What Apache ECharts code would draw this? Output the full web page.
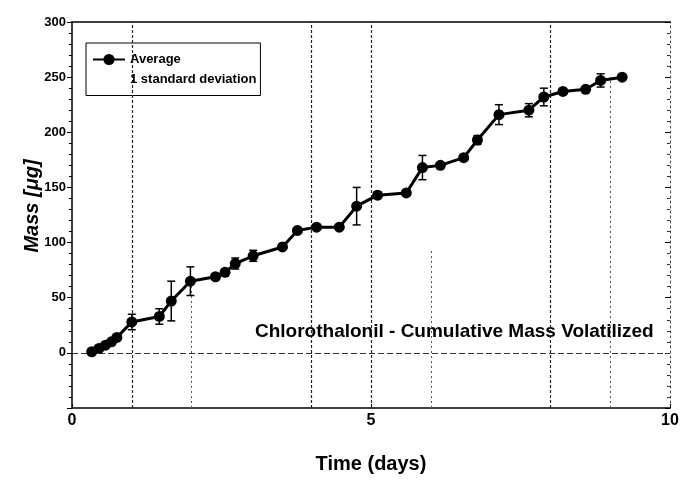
<!DOCTYPE html>
<html>
<head>
<meta charset="utf-8">
<style>
html,body{margin:0;padding:0;background:#fff;}
#chart{width:682px;height:483px;}
</style>
<script src="https://cdn.jsdelivr.net/npm/echarts@6/dist/echarts.min.js"></script>
</head>
<body>
<div id="chart"></div>
<script>
// Data
const days = [0.33, 0.45, 0.56, 0.66, 0.75, 1.0, 1.46, 1.66, 1.98, 2.40, 2.56, 2.73, 3.03, 3.52, 3.77, 4.09, 4.47, 4.76, 5.11, 5.59, 5.86, 6.16, 6.55, 6.78, 7.14, 7.64, 7.89, 8.21, 8.59, 8.84, 9.2];
const mass = [1, 4, 7, 10, 14, 28, 33, 47, 65, 69, 73, 81, 88, 96, 111, 114, 114, 133, 143, 145, 168, 170, 177, 193, 216, 220, 232, 237, 239, 247, 250];
const sd   = [1, 1, 1, 1, 2, 7, 7, 18, 13, 2, 3, 5, 5, 2, 2, 2, 2, 17, 3, 2, 11, 2, 2, 4, 9, 6, 8, 2, 2, 6, 2];
const yTicks = [0, 50, 100, 150, 200, 250, 300];
const xTicks = [0, 5, 10];
const fullGridDays = [1, 4, 5, 8];
const partialGrid = [[2, -50, 65], [6, -50, 95], [9, -50, 250]];

const FONT = "'Liberation Sans', Arial, sans-serif";
const chart = echarts.init(document.getElementById('chart'));

const avgData = days.map((d, i) => [d, mass[i]]);
const errData = days.map((d, i) => [d, mass[i] - sd[i], mass[i] + sd[i]]);

const gridMarks = fullGridDays.map(v => ({ xAxis: v }));
gridMarks.push({ yAxis: 0, lineStyle: { type: [6, 3], color: '#333', width: 1 } });
partialGrid.forEach(g => {
  gridMarks.push([{ coord: [g[0], g[1]] }, { coord: [g[0], g[2]], lineStyle: { type: [2, 3], color: '#555', width: 1 } }]);
});

chart.setOption({
  animation: false,
  backgroundColor: '#fff',
  grid: { left: 72, right: 12, top: 22, bottom: 75 },
  legend: {
    left: 86, top: 43, orient: 'vertical',
    borderColor: '#000', borderWidth: 1,
    padding: [10, 4, 10, 6],
    itemGap: 6, itemWidth: 32, itemHeight: 14,
    textStyle: { fontFamily: FONT, fontWeight: 'bold', fontSize: 13, color: '#000' },
    data: [{ name: 'Average' }, { name: '1 standard deviation', icon: 'none' }]
  },
  xAxis: [{
    type: 'value', min: 0, max: 10, interval: 5,
    name: 'Time (days)', nameLocation: 'middle', nameGap: 46,
    nameTextStyle: { fontFamily: FONT, fontWeight: 'bold', fontSize: 20, color: '#000' },
    axisLine: { onZero: false, lineStyle: { color: '#000', width: 1.5 } },
    axisTick: { inside: true, length: 4, lineStyle: { color: '#000' } },
    axisLabel: { margin: 5, fontFamily: FONT, fontWeight: 'bold', fontSize: 16, color: '#000',
      formatter: v => xTicks.includes(v) ? String(v) : '' },
    splitLine: { show: false }
  }, {
    type: 'value', min: 0, max: 10, position: 'top',
    axisLine: { show: true, onZero: false, lineStyle: { color: '#000', width: 1.5 } },
    axisTick: { show: false }, axisLabel: { show: false }, splitLine: { show: false }
  }],
  yAxis: [{
    type: 'value', min: -50, max: 300, interval: 50,
    name: 'Mass [μg]', nameLocation: 'middle', nameGap: 30, nameMoveOverlap: false,
    nameTextStyle: { fontFamily: FONT, fontWeight: 'bold', fontStyle: 'italic', fontSize: 20, color: '#000',
      padding: [0, 0, 0, 18] },
    axisLine: { show: true, onZero: false, lineStyle: { color: '#000', width: 1.5 } },
    axisTick: { show: true, length: 5, lineStyle: { color: '#000' } },
    minorTick: { show: true, splitNumber: 5, length: 3, lineStyle: { color: '#000' } },
    axisLabel: { margin: 6, fontFamily: FONT, fontWeight: 'bold', fontSize: 13, color: '#000',
      formatter: v => yTicks.includes(v) ? String(v) : '' },
    splitLine: { show: false }
  }, {
    type: 'value', min: -50, max: 300, interval: 50, position: 'right',
    axisLine: { show: true, onZero: false, lineStyle: { color: '#444', width: 1, type: [2, 3] } },
    axisTick: { show: true, inside: true, length: 5, lineStyle: { color: '#000' } },
    minorTick: { show: true, splitNumber: 5, length: 3, lineStyle: { color: '#333' } },
    axisLabel: { show: false }, splitLine: { show: false }
  }],
  graphic: [{
    type: 'text', left: 255, top: 322,
    style: { text: 'Chlorothalonil - Cumulative Mass Volatilized', fill: '#000',
      font: "bold 19px 'Liberation Sans', Arial, sans-serif" }
  }],
  series: [{
    name: 'Average', type: 'line', data: avgData,
    symbol: 'circle', symbolSize: 11,
    lineStyle: { color: '#000', width: 3 },
    itemStyle: { color: '#000' },
    z: 5,
    markLine: {
      silent: true, symbol: 'none', label: { show: false },
      lineStyle: { type: [3, 2], color: '#222', width: 1.2 },
      data: gridMarks
    }
  }, {
    name: '1 standard deviation', type: 'custom', data: errData, z: 4,
    renderItem: function (params, api) {
      const x = api.value(0), lo = api.value(1), hi = api.value(2);
      const p1 = api.coord([x, lo]), p2 = api.coord([x, hi]);
      const w = 4;
      const st = { stroke: '#000', lineWidth: 1.5 };
      return { type: 'group', children: [
        { type: 'line', shape: { x1: p1[0], y1: p1[1], x2: p2[0], y2: p2[1] }, style: st },
        { type: 'line', shape: { x1: p1[0] - w, y1: p1[1], x2: p1[0] + w, y2: p1[1] }, style: st },
        { type: 'line', shape: { x1: p2[0] - w, y1: p2[1], x2: p2[0] + w, y2: p2[1] }, style: st }
      ] };
    }
  }]
});
</script>
</body>
</html>
